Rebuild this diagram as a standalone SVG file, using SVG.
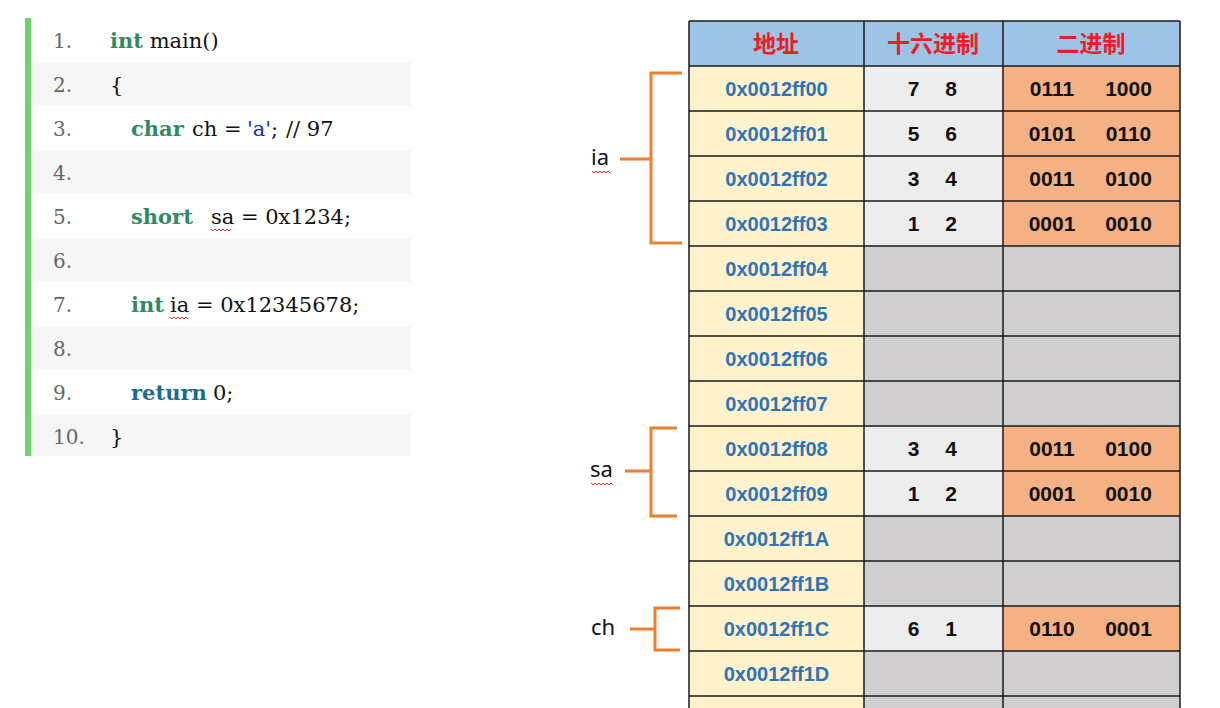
<svg xmlns="http://www.w3.org/2000/svg" width="1220" height="708" viewBox="0 0 1220 708">
<style>
.ln{font-family:"DejaVu Serif","Liberation Serif",serif;font-size:20px;fill:#666}
.cd{font-family:"DejaVu Serif","Liberation Serif",serif;font-size:21px;fill:#111}
.kw{font-weight:bold;fill:#2e8b62}
.rt{font-weight:bold;fill:#1b6b8f}
.ch{fill:#2424c8}
.stripe{fill:#f6f6f6}
.hd{fill:#9dc3e6}
.ad{fill:#fff2cc}
.lg{fill:#ededed}
.dg{fill:#d0cece}
.or{fill:#f4b183}
.ht{font-family:"Noto Sans CJK SC",sans-serif;font-size:23px;font-weight:bold;fill:#ee1c24;text-anchor:middle}
.at{font-family:"Liberation Sans",Arial,sans-serif;font-size:20px;font-weight:bold;fill:#2e75b6;text-anchor:middle}
.vt{font-family:"Liberation Sans",Arial,sans-serif;font-size:21px;font-weight:bold;fill:#111;text-anchor:middle}
.grid{stroke:#1a1a1a;stroke-width:1.5;fill:none}
.br{stroke:#ed7d31;stroke-width:3;fill:none}
.lb{font-family:"Noto Sans","Liberation Sans",sans-serif;font-size:22px;fill:#111}
.sq{stroke:#e03030;stroke-width:1;fill:none}
</style>
<rect width="1220" height="708" fill="#ffffff"/>

<g id="code">
<rect x="25" y="18" width="6" height="438" fill="#6dd36d"/>
<rect class="stripe" x="31" y="62" width="380" height="44"/>
<rect class="stripe" x="31" y="150" width="380" height="44"/>
<rect class="stripe" x="31" y="238" width="380" height="44"/>
<rect class="stripe" x="31" y="326" width="380" height="44"/>
<rect class="stripe" x="31" y="414" width="380" height="42"/>
<text class="ln" x="53" y="48">1.</text>
<text class="ln" x="53" y="92">2.</text>
<text class="ln" x="53" y="136">3.</text>
<text class="ln" x="53" y="180">4.</text>
<text class="ln" x="53" y="224">5.</text>
<text class="ln" x="53" y="268">6.</text>
<text class="ln" x="53" y="312">7.</text>
<text class="ln" x="53" y="356">8.</text>
<text class="ln" x="53" y="400">9.</text>
<text class="ln" x="53" y="444">10.</text>
<text class="cd" x="110" y="48"><tspan class="kw">int</tspan> main()</text>
<text class="cd" x="110" y="92">{</text>
<text class="cd" y="136"><tspan class="kw" x="131">char</tspan><tspan x="192">ch =</tspan><tspan class="ch" x="247">'a'</tspan><tspan x="271">;</tspan><tspan x="286">// 97</tspan></text>
<text class="cd" y="224"><tspan class="kw" x="131">short</tspan><tspan x="211">sa = 0x1234;</tspan></text>
<path class="sq" d="M211 229 l2 2 l2 -2 l2 2 l2 -2 l2 2 l2 -2 l2 2 l2 -2 l2 2 l2 -2"/>
<text class="cd" y="312"><tspan class="kw" x="131">int</tspan><tspan x="170">ia = 0x12345678;</tspan></text>
<path class="sq" d="M170 317 l2 2 l2 -2 l2 2 l2 -2 l2 2 l2 -2 l2 2 l2 -2 l2 2"/>
<text class="cd" y="400"><tspan class="rt" x="131">return</tspan><tspan x="213">0;</tspan></text>
<text class="cd" x="110" y="444">}</text>
</g>

<g id="header">
<rect class="hd" x="689" y="21" width="491" height="45"/>
<text class="ht" x="776" y="52">地址</text>
<text class="ht" x="933" y="52">十六进制</text>
<text class="ht" x="1091" y="52">二进制</text>
</g>

<g id="row0"><rect class="ad" x="689" y="66" width="175" height="45"/><rect class="lg" x="864" y="66" width="139" height="45"/><rect class="or" x="1003" y="66" width="177" height="45"/>
<text class="at" x="776.5" y="96">0x0012ff00</text><text class="vt" x="913.5" y="96">7</text><text class="vt" x="951" y="96">8</text><text class="vt" x="1052" y="96">0111</text><text class="vt" x="1128.5" y="96">1000</text></g>
<g id="row1"><rect class="ad" x="689" y="111" width="175" height="45"/><rect class="lg" x="864" y="111" width="139" height="45"/><rect class="or" x="1003" y="111" width="177" height="45"/>
<text class="at" x="776.5" y="141">0x0012ff01</text><text class="vt" x="913.5" y="141">5</text><text class="vt" x="951" y="141">6</text><text class="vt" x="1052" y="141">0101</text><text class="vt" x="1128.5" y="141">0110</text></g>
<g id="row2"><rect class="ad" x="689" y="156" width="175" height="45"/><rect class="lg" x="864" y="156" width="139" height="45"/><rect class="or" x="1003" y="156" width="177" height="45"/>
<text class="at" x="776.5" y="186">0x0012ff02</text><text class="vt" x="913.5" y="186">3</text><text class="vt" x="951" y="186">4</text><text class="vt" x="1052" y="186">0011</text><text class="vt" x="1128.5" y="186">0100</text></g>
<g id="row3"><rect class="ad" x="689" y="201" width="175" height="45"/><rect class="lg" x="864" y="201" width="139" height="45"/><rect class="or" x="1003" y="201" width="177" height="45"/>
<text class="at" x="776.5" y="231">0x0012ff03</text><text class="vt" x="913.5" y="231">1</text><text class="vt" x="951" y="231">2</text><text class="vt" x="1052" y="231">0001</text><text class="vt" x="1128.5" y="231">0010</text></g>
<g id="row4"><rect class="ad" x="689" y="246" width="175" height="45"/><rect class="dg" x="864" y="246" width="316" height="45"/>
<text class="at" x="776.5" y="276">0x0012ff04</text></g>
<g id="row5"><rect class="ad" x="689" y="291" width="175" height="45"/><rect class="dg" x="864" y="291" width="316" height="45"/>
<text class="at" x="776.5" y="321">0x0012ff05</text></g>
<g id="row6"><rect class="ad" x="689" y="336" width="175" height="45"/><rect class="dg" x="864" y="336" width="316" height="45"/>
<text class="at" x="776.5" y="366">0x0012ff06</text></g>
<g id="row7"><rect class="ad" x="689" y="381" width="175" height="45"/><rect class="dg" x="864" y="381" width="316" height="45"/>
<text class="at" x="776.5" y="411">0x0012ff07</text></g>
<g id="row8"><rect class="ad" x="689" y="426" width="175" height="45"/><rect class="lg" x="864" y="426" width="139" height="45"/><rect class="or" x="1003" y="426" width="177" height="45"/>
<text class="at" x="776.5" y="456">0x0012ff08</text><text class="vt" x="913.5" y="456">3</text><text class="vt" x="951" y="456">4</text><text class="vt" x="1052" y="456">0011</text><text class="vt" x="1128.5" y="456">0100</text></g>
<g id="row9"><rect class="ad" x="689" y="471" width="175" height="45"/><rect class="lg" x="864" y="471" width="139" height="45"/><rect class="or" x="1003" y="471" width="177" height="45"/>
<text class="at" x="776.5" y="501">0x0012ff09</text><text class="vt" x="913.5" y="501">1</text><text class="vt" x="951" y="501">2</text><text class="vt" x="1052" y="501">0001</text><text class="vt" x="1128.5" y="501">0010</text></g>
<g id="row10"><rect class="ad" x="689" y="516" width="175" height="45"/><rect class="dg" x="864" y="516" width="316" height="45"/>
<text class="at" x="776.5" y="546">0x0012ff1A</text></g>
<g id="row11"><rect class="ad" x="689" y="561" width="175" height="45"/><rect class="dg" x="864" y="561" width="316" height="45"/>
<text class="at" x="776.5" y="591">0x0012ff1B</text></g>
<g id="row12"><rect class="ad" x="689" y="606" width="175" height="45"/><rect class="lg" x="864" y="606" width="139" height="45"/><rect class="or" x="1003" y="606" width="177" height="45"/>
<text class="at" x="776.5" y="636">0x0012ff1C</text><text class="vt" x="913.5" y="636">6</text><text class="vt" x="951" y="636">1</text><text class="vt" x="1052" y="636">0110</text><text class="vt" x="1128.5" y="636">0001</text></g>
<g id="row13"><rect class="ad" x="689" y="651" width="175" height="45"/><rect class="dg" x="864" y="651" width="316" height="45"/>
<text class="at" x="776.5" y="681">0x0012ff1D</text></g>
<g id="row14"><rect class="ad" x="689" y="696" width="175" height="12"/><rect class="dg" x="864" y="696" width="316" height="12"/></g>

<g id="grid">
<path class="grid" d="M689 21H1180M689 66H1180M689 111H1180M689 156H1180M689 201H1180M689 246H1180M689 291H1180M689 336H1180M689 381H1180M689 426H1180M689 471H1180M689 516H1180M689 561H1180M689 606H1180M689 651H1180M689 696H1180"/>
<path class="grid" d="M689 21V708M864 21V708M1003 21V708M1180 21V708"/>
</g>

<g id="label-ia"><text class="lb" x="591" y="165">ia</text><path class="sq" d="M592 171 l2 2 l2 -2 l2 2 l2 -2 l2 2 l2 -2 l2 2 l2 -2 l2 2"/></g>
<g id="label-sa"><text class="lb" x="590" y="477">sa</text><path class="sq" d="M591 483 l2 2 l2 -2 l2 2 l2 -2 l2 2 l2 -2 l2 2 l2 -2 l2 2 l2 -2 l2 2"/></g>
<g id="label-ch"><text class="lb" x="591" y="635">ch</text></g>

<g id="connectors">
<path class="br" d="M682 73H651V243H682M620 159H651"/>
<path class="br" d="M677 428H651V516H677M625 471H651"/>
<path class="br" d="M680 608H655V650H680M630 629H655"/>
</g>
</svg>
